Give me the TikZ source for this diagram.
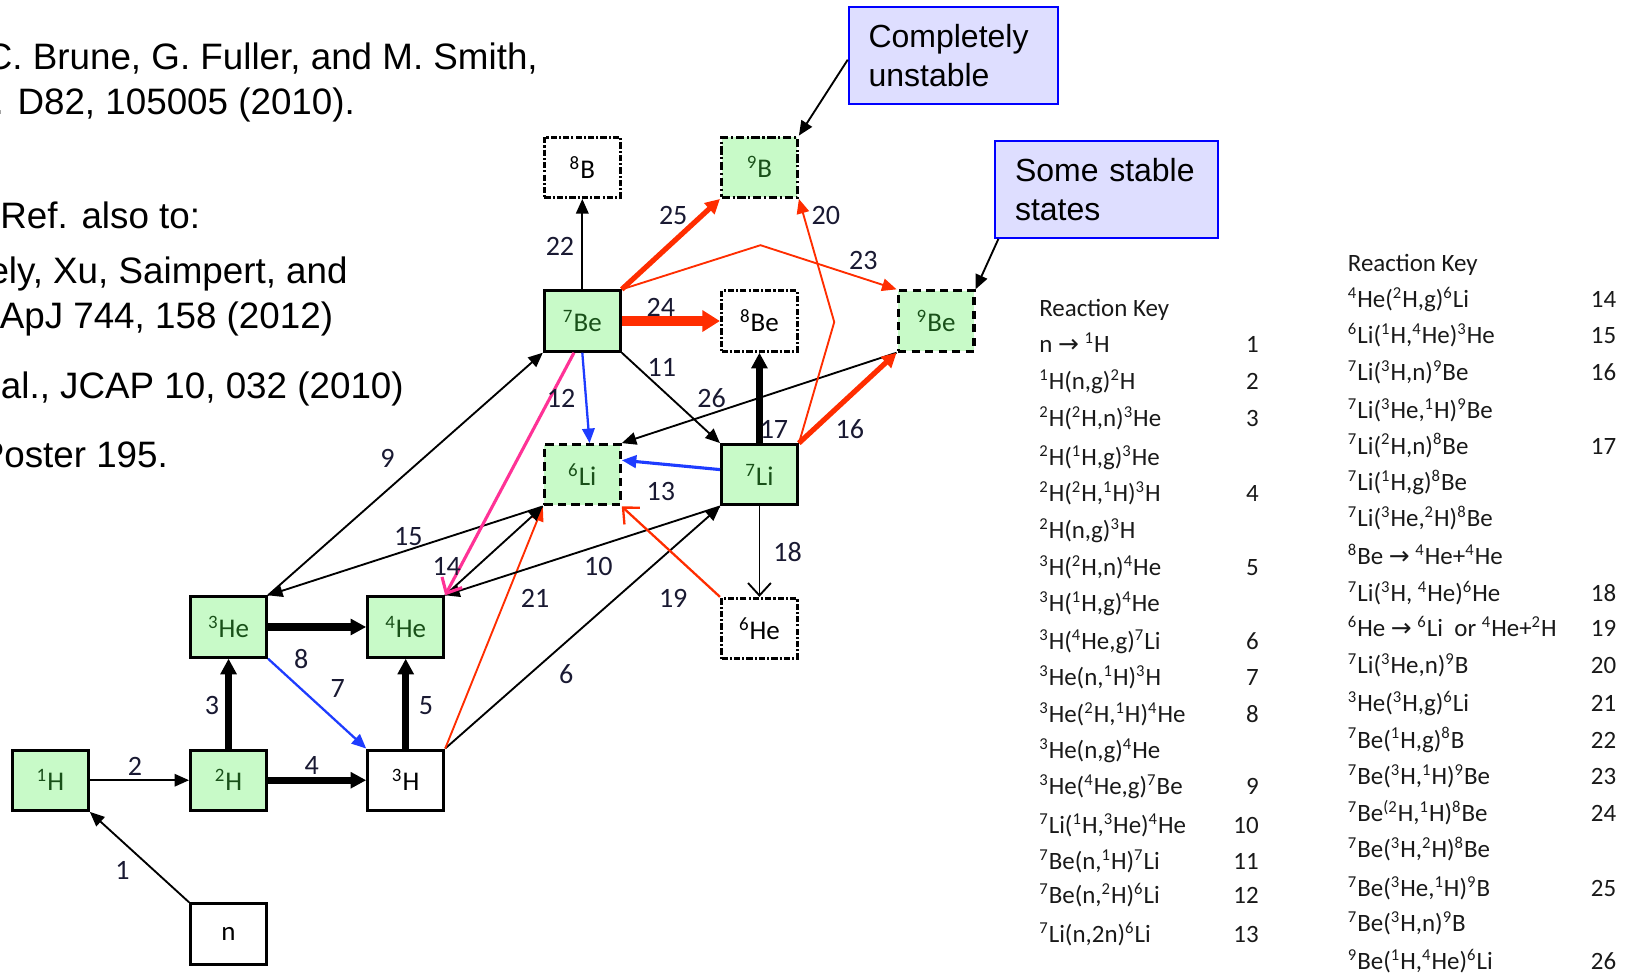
\documentclass[tikz,border=0pt]{standalone}
\usepackage{fontspec}
\setmainfont{Carlito}
\newfontfamily\arialf{Liberation Sans}
\newfontfamily\dejavuf{DejaVu Sans}
\usetikzlibrary{arrows.meta,calc}
\definecolor{nodegreen}{RGB}{200,250,200}
\definecolor{labgreen}{RGB}{25,80,25}
\definecolor{rxred}{RGB}{255,45,0}
\definecolor{rxpink}{RGB}{255,50,150}
\definecolor{rxblue}{RGB}{30,60,255}
\definecolor{callfill}{RGB}{222,222,255}
\definecolor{callborder}{RGB}{0,0,255}
\definecolor{numcol}{RGB}{25,25,50}
\newcommand\sx[1]{\textsuperscript{#1}}
\newcommand\rarr{{\dejavuf\char"2192}}
\begin{document}
\begin{tikzpicture}[x=0.5pt,y=-0.5pt,
  nuc/.style={rectangle, minimum width=36.5pt, minimum height=29pt, inner sep=0pt, line width=1.5pt, font=\fontsize{13}{15}\selectfont},
  stablebox/.style={nuc, draw=black, fill=nodegreen, text=labgreen},
  plainbox/.style={nuc, draw=black, text=black},
  dashgreen/.style={nuc, draw=black, fill=nodegreen, text=labgreen, dash pattern=on 4pt off 2.5pt},
  dashgreentwo/.style={nuc, draw=black, fill=nodegreen, text=labgreen, dash pattern=on 4pt off 1.3pt on 1pt off 1.3pt},
  dashdotbox/.style={nuc, draw=black, text=black, dash pattern=on 3pt off 1pt on 1pt off 1pt},
  numlab/.style={font=\fontsize{13.5}{15}\selectfont, text=numcol, inner sep=0pt},
  thinarr/.style={line width=0.9pt, -{Triangle[length=7pt,width=6pt]}},
  barbarr/.style={line width=0.9pt, -{Straight Barb[length=6pt,width=11pt]}},
  heavyarr/.style={line width=3.5pt, -{Triangle[length=7.5pt,width=7.5pt]}},
  redthin/.style={rxred, line width=0.9pt, -{Triangle[length=7pt,width=6pt]}},
  redmid/.style={rxred, line width=2.5pt, -{Triangle[length=7pt,width=7pt]}},
  redheavy/.style={rxred, line width=4.5pt, -{Triangle[length=8.5pt,width=10pt]}},
  bluearr/.style={rxblue, line width=1.1pt, -{Triangle[length=7pt,width=6pt]}},
  callout/.style={draw=callborder, fill=callfill, line width=1pt, font=\arialf\fontsize{15.4}{18.5}\selectfont, align=left, inner xsep=9.5pt, inner ysep=0pt},
  reftext/.style={font=\arialf\fontsize{17.7}{20}\selectfont, inner sep=0pt, anchor=base east},
  keytext/.style={font=\fontsize{12}{14}\selectfont, inner sep=0pt, anchor=base west, text=black!90},
  keynum/.style={font=\fontsize{12}{14}\selectfont, inner sep=0pt, anchor=base east, text=black!90}
]
\useasboundingbox (0,0) rectangle (1568,938);
\clip (0,0) rectangle (1568,938);

% left reference text
\node[reftext] (r1) at (518,67) {C. Brune, G. Fuller, and M. Smith,};
\node[reftext] (r2) at (342,110) {. D82, 105005 (2010).};
\node[reftext] (r3) at (193,220) {Ref. also to:};
\node[reftext] (r4) at (335,273) {ely, Xu, Saimpert, and};
\node[reftext] (r5) at (321,316) {ApJ 744, 158 (2012)};
\node[reftext] (r6) at (389,384) {al., JCAP 10, 032 (2010)};
\node[reftext] (r7) at (162,450) {Poster 195.};

% nuclide boxes
\node[stablebox] (h1) at (48.5,751) {\sx{1}H};
\node[stablebox] (h2) at (220,751) {\sx{2}H};
\node[plainbox] (h3) at (390.5,751) {\sx{3}H};
\node[stablebox] (he3) at (220,603.5) {\sx{3}He};
\node[stablebox] (he4) at (390.5,603.5) {\sx{4}He};
\node[plainbox] (nn) at (220,899) {n};
\node[dashgreen] (li6) at (560.5,457) {\sx{6}Li};
\node[stablebox] (li7) at (731,457) {\sx{7}Li};
\node[dashdotbox] (he6) at (731,605) {\sx{6}He};
\node[stablebox] (be7) at (560.5,309) {\sx{7}Be};
\node[dashdotbox] (be8) at (731,309) {\sx{8}Be};
\node[dashgreen] (be9) at (901,309) {\sx{9}Be};
\node[dashdotbox] (b8) at (560.5,161) {\sx{8}B};
\node[dashgreentwo] (b9) at (731,161) {\sx{9}B};

% callouts
\node[callout, text width=81.5pt, minimum height=46.5pt] (c1) at (917.5,53.5) {Completely\\unstable};
\node[callout, text width=88pt, minimum height=46.5pt] (c2) at (1065,182.5) {Some stable\\states};
\draw[thinarr] ([yshift=-2pt]c1.west) -- (b9.north east);
\draw[thinarr] ([xshift=2pt]c2.south west) -- (be9.north east);

% connectors
\coordinate (k20) at (803,310);
\coordinate (k23) at (732,236);
\draw[thinarr] (nn.north west) -- (h1.south east);
\draw[thinarr] (h1.east) -- (h2.west);
\draw[heavyarr] (h2.north) -- (he3.south);
\draw[heavyarr] (h2.east) -- (h3.west);
\draw[heavyarr] (h3.north) -- (he4.south);
\draw[heavyarr] (he3.east) -- (he4.west);
\draw[bluearr] (he3.south east) -- (h3.north west);
\draw[thinarr] (h3.north east) -- (li7.south west);
\draw[redthin] (h3.north east) -- (li6.south west);
\draw[thinarr] (he3.north east) -- (be7.south west);
\draw[thinarr] (li6.south west) -- (he3.north east);
\draw[thinarr] (he4.north east) -- (li6.south west);
\draw[thinarr] (li7.south west) -- (he4.north east);
\draw[rxpink, line width=1.5pt, -{Straight Barb[length=6pt,width=11pt]}] ([xshift=-4pt]be7.south) -- (he4.north east);
\draw[bluearr] (be7.south) -- ([xshift=3.5pt]li6.north);
\draw[thinarr] (be7.south east) -- (li7.north west);
\draw[thinarr] (be9.south west) -- (li6.north east);
\draw[bluearr, line width=1.5pt] ([yshift=2.5pt]li7.west) -- ([yshift=7pt]li6.east);
\draw[heavyarr] (li7.north) -- (be8.south);
\draw[redmid] (li7.north east) -- (be9.south west);
\draw[redthin] (li7.north east) -- (k20) -- (b9.south east);
\draw[barbarr] (li7.south) -- (he6.north);
\draw[rxred, line width=1.1pt, -{Straight Barb[length=6pt,width=11pt]}] (he6.north west) -- (li6.south east);
\draw[thinarr] (be7.north) -- (b8.south);
\draw[redheavy] (be7.east) -- (be8.west);
\draw[redmid] (be7.north east) -- (b9.south west);
\draw[redthin] (be7.north east) -- (k23) -- (be9.north west);

% reaction numbers on the diagram
\node[numlab] (l1) at (118,838) {1};
\node[numlab] (l2) at (130,738) {2};
\node[numlab] (l3) at (204,679) {3};
\node[numlab] (l4) at (300,737) {4};
\node[numlab] (l5) at (410,679) {5};
\node[numlab] (l8) at (290,634) {8};
\node[numlab] (l7) at (325,663) {7};
\node[numlab] (l6) at (545,649) {6};
\node[numlab] (l9) at (373,441) {9};
\node[numlab] (l15) at (393,516) {15};
\node[numlab] (l14) at (430,545) {14};
\node[numlab] (l21) at (515,576) {21};
\node[numlab] (l10) at (576,545) {10};
\node[numlab] (l19) at (648,576) {19};
\node[numlab] (l12) at (540,383) {12};
\node[numlab] (l11) at (637,354) {11};
\node[numlab] (l26) at (685,383) {26};
\node[numlab] (l13) at (636,473) {13};
\node[numlab] (l17) at (745,413) {17};
\node[numlab] (l16) at (818,413) {16};
\node[numlab] (l18) at (758,531) {18};
\node[numlab] (l20) at (795,207) {20};
\node[numlab] (l22) at (539,237) {22};
\node[numlab] (l24) at (636,296) {24};
\node[numlab] (l25) at (648,207) {25};
\node[numlab] (l23) at (831,251) {23};

% reaction key, first column
\node[keytext] (ka0) at (1000,305) {Reaction Key};
\node[keytext] (ka1) at (1000,339) {n \rarr\ \sx{1}H};
\node[keynum] (kn1) at (1212,339) {1};
\node[keytext] (ka2) at (1000,375) {\sx{1}H(n,g)\sx{2}H};
\node[keynum] (kn2) at (1212,375) {2};
\node[keytext] (ka3) at (1000,411) {\sx{2}H(\sx{2}H,n)\sx{3}He};
\node[keynum] (kn3) at (1212,411) {3};
\node[keytext] (ka4) at (1000,448) {\sx{2}H(\sx{1}H,g)\sx{3}He};
\node[keytext] (ka5) at (1000,483) {\sx{2}H(\sx{2}H,\sx{1}H)\sx{3}H};
\node[keynum] (kn4) at (1212,483) {4};
\node[keytext] (ka6) at (1000,518) {\sx{2}H(n,g)\sx{3}H};
\node[keytext] (ka7) at (1000,554) {\sx{3}H(\sx{2}H,n)\sx{4}He};
\node[keynum] (kn5) at (1212,554) {5};
\node[keytext] (ka8) at (1000,589) {\sx{3}H(\sx{1}H,g)\sx{4}He};
\node[keytext] (ka9) at (1000,625) {\sx{3}H(\sx{4}He,g)\sx{7}Li};
\node[keynum] (kn6) at (1212,625) {6};
\node[keytext] (ka10) at (1000,660) {\sx{3}He(n,\sx{1}H)\sx{3}H};
\node[keynum] (kn7) at (1212,660) {7};
\node[keytext] (ka11) at (1000,695) {\sx{3}He(\sx{2}H,\sx{1}H)\sx{4}He};
\node[keynum] (kn8) at (1212,695) {8};
\node[keytext] (ka12) at (1000,730) {\sx{3}He(n,g)\sx{4}He};
\node[keytext] (ka13) at (1000,765) {\sx{3}He(\sx{4}He,g)\sx{7}Be};
\node[keynum] (kn9) at (1212,765) {9};
\node[keytext] (ka14) at (1000,802) {\sx{7}Li(\sx{1}H,\sx{3}He)\sx{4}He};
\node[keynum] (kn10) at (1212,802) {10};
\node[keytext] (ka15) at (1000,837) {\sx{7}Be(n,\sx{1}H)\sx{7}Li};
\node[keynum] (kn11) at (1212,837) {11};
\node[keytext] (ka16) at (1000,870) {\sx{7}Be(n,\sx{2}H)\sx{6}Li};
\node[keynum] (kn12) at (1212,870) {12};
\node[keytext] (ka17) at (1000,907) {\sx{7}Li(n,2n)\sx{6}Li};
\node[keynum] (kn13) at (1212,907) {13};

% reaction key, second column
\node[keytext] (kb0) at (1297,261) {Reaction Key};
\node[keytext] (kb1) at (1297,296) {\sx{4}He(\sx{2}H,g)\sx{6}Li};
\node[keynum] (kbn14) at (1556,296) {14};
\node[keytext] (kb2) at (1297,331) {\sx{6}Li(\sx{1}H,\sx{4}He)\sx{3}He};
\node[keynum] (kbn15) at (1556,331) {15};
\node[keytext] (kb3) at (1297,366) {\sx{7}Li(\sx{3}H,n)\sx{9}Be};
\node[keynum] (kbn16) at (1556,366) {16};
\node[keytext] (kb4) at (1297,403) {\sx{7}Li(\sx{3}He,\sx{1}H)\sx{9}Be};
\node[keytext] (kb5) at (1297,437) {\sx{7}Li(\sx{2}H,n)\sx{8}Be};
\node[keynum] (kbn17) at (1556,437) {17};
\node[keytext] (kb6) at (1297,472) {\sx{7}Li(\sx{1}H,g)\sx{8}Be};
\node[keytext] (kb7) at (1297,507) {\sx{7}Li(\sx{3}He,\sx{2}H)\sx{8}Be};
\node[keytext] (kb8) at (1297,543) {\sx{8}Be \rarr\ \sx{4}He+\sx{4}He};
\node[keytext] (kb9) at (1297,579) {\sx{7}Li(\sx{3}H, \sx{4}He)\sx{6}He};
\node[keynum] (kbn18) at (1556,579) {18};
\node[keytext] (kb10) at (1297,613) {\sx{6}He \rarr\ \sx{6}Li\ \ or \sx{4}He+\sx{2}H};
\node[keynum] (kbn19) at (1556,613) {19};
\node[keytext] (kb11) at (1297,648) {\sx{7}Li(\sx{3}He,n)\sx{9}B};
\node[keynum] (kbn20) at (1556,648) {20};
\node[keytext] (kb12) at (1297,685) {\sx{3}He(\sx{3}H,g)\sx{6}Li};
\node[keynum] (kbn21) at (1556,685) {21};
\node[keytext] (kb13) at (1297,720) {\sx{7}Be(\sx{1}H,g)\sx{8}B};
\node[keynum] (kbn22) at (1556,720) {22};
\node[keytext] (kb14) at (1297,755) {\sx{7}Be(\sx{3}H,\sx{1}H)\sx{9}Be};
\node[keynum] (kbn23) at (1556,755) {23};
\node[keytext] (kb15) at (1297,791) {\sx{7}Be\sx{(2}H,\sx{1}H)\sx{8}Be};
\node[keynum] (kbn24) at (1556,791) {24};
\node[keytext] (kb16) at (1297,825) {\sx{7}Be(\sx{3}H,\sx{2}H)\sx{8}Be};
\node[keytext] (kb17) at (1297,863) {\sx{7}Be(\sx{3}He,\sx{1}H)\sx{9}B};
\node[keynum] (kbn25) at (1556,863) {25};
\node[keytext] (kb18) at (1297,897) {\sx{7}Be(\sx{3}H,n)\sx{9}B};
\node[keytext] (kb19) at (1297,933) {\sx{9}Be(\sx{1}H,\sx{4}He)\sx{6}Li};
\node[keynum] (kbn26) at (1556,933) {26};
\end{tikzpicture}
\end{document}
